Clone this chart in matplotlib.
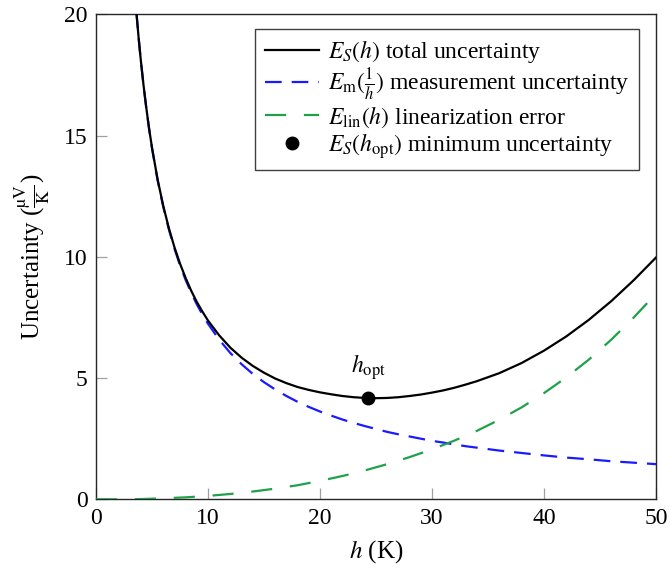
import matplotlib
matplotlib.use("Agg")
import matplotlib.pyplot as plt

plt.rcParams['font.family'] = ['Liberation Serif', 'DejaVu Serif']
plt.rcParams['mathtext.fontset'] = 'stix'

# h grid (K) and read-off values
h_vals = [3.6, 3.8, 4, 4.25, 4.5, 4.75, 5, 5.5, 6, 6.5, 7, 7.5, 8, 8.5, 9, 9.5, 10, 11, 12,
          13, 14, 15, 16, 17, 18, 19, 20, 21, 22, 23, 24, 25, 26, 27, 28, 29, 30, 31, 32,
          33, 34, 36, 38, 40, 42, 44, 46, 48, 50]
e_meas = [20.11, 19.05, 18.10, 17.04, 16.09, 15.24, 14.48, 13.16, 12.07, 11.14, 10.34, 9.65,
          9.05, 8.52, 8.04, 7.62, 7.24, 6.58, 6.03, 5.57, 5.17, 4.83, 4.53, 4.26, 4.02, 3.81,
          3.62, 3.45, 3.29, 3.15, 3.02, 2.90, 2.78, 2.68, 2.59, 2.50, 2.41, 2.34, 2.26, 2.19,
          2.13, 2.01, 1.91, 1.81, 1.72, 1.65, 1.57, 1.51, 1.45]
e_total = [20.12, 19.06, 18.11, 17.05, 16.11, 15.26, 14.50, 13.19, 12.11, 11.19, 10.40, 9.72,
           9.13, 8.60, 8.14, 7.74, 7.37, 6.76, 6.25, 5.84, 5.50, 5.22, 4.98, 4.79, 4.63, 4.51,
           4.41, 4.33, 4.26, 4.21, 4.18, 4.17, 4.18, 4.21, 4.26, 4.32, 4.40, 4.49, 4.60, 4.73,
           4.87, 5.20, 5.62, 6.13, 6.72, 7.40, 8.17, 9.03, 9.97]

h_lin = [0, 2, 4, 6, 8, 10, 12, 14, 16, 18, 20, 22, 24, 26, 28, 30, 32, 34, 36, 38, 40, 42,
         44, 46, 48, 50]
e_lin = [0.00, 0.00, 0.01, 0.04, 0.08, 0.14, 0.22, 0.32, 0.44, 0.58, 0.76, 0.96, 1.19, 1.45,
         1.74, 2.06, 2.42, 2.82, 3.28, 3.79, 4.38, 5.03, 5.76, 6.58, 7.49, 8.48]

h_opt = 24.3
e_opt = 4.17

x_ticks = [0, 10, 20, 30, 40, 50]
y_ticks = [0, 5, 10, 15, 20]

fig = plt.figure(figsize=(6.71, 5.71), dpi=100)
ax = fig.add_axes([96/671, 1 - 499.3/571, 560/671, 485/571])

fs = 17
blue = '#1a1aff'
green = '#1fa04a'

l_total, = ax.plot(h_vals, e_total, color='black', lw=1.6, zorder=4)
l_meas, = ax.plot(h_vals, e_meas, color=blue, lw=1.6, dashes=(7.5, 4.5), zorder=3)
l_lin, = ax.plot(h_lin, e_lin, color=green, lw=1.6, dashes=(9.5, 8), zorder=3)
l_opt, = ax.plot([h_opt], [e_opt], 'o', color='black', ms=9, zorder=5, linestyle='none')

ax.text(h_opt, 4.85, r'$h_{\mathrm{opt}}$', ha='center', va='bottom', fontsize=fs)

ax.set_xlim(0, 50)
ax.set_ylim(0, 20)
ax.set_xticks(x_ticks)
ax.set_yticks(y_ticks)
ax.tick_params(direction='in', length=8, width=0.9, color='#a0a0a0', labelsize=fs, pad=6)
for s in ax.spines.values():
    s.set_color('#262626')
    s.set_linewidth(1.0)

ax.set_xlabel(r'$h$ (K)', fontsize=18, labelpad=7)
ax.set_ylabel(r'Uncertainty ($\frac{\mathrm{µV}}{\mathrm{K}}$)', fontsize=18, labelpad=8)

leg = ax.legend([l_total, l_meas, l_lin, l_opt],
                [r'$E_S(h)$ total uncertainty',
                 r'$E_{\mathrm{m}}(\frac{1}{h})$ measurement uncertainty',
                 r'$E_{\mathrm{lin}}(h)$ linearization error',
                 r'$E_S(h_{\mathrm{opt}})$ minimum uncertainty'],
                loc='upper right', bbox_to_anchor=(0.97, 0.97), borderaxespad=0,
                fontsize=fs, frameon=True, fancybox=False, framealpha=1,
                edgecolor='#404040', handlelength=2.3, handletextpad=0.4,
                labelspacing=0.05, borderpad=0.4)
leg.get_frame().set_linewidth(1.0)

fig.savefig('out.png', dpi=100)
